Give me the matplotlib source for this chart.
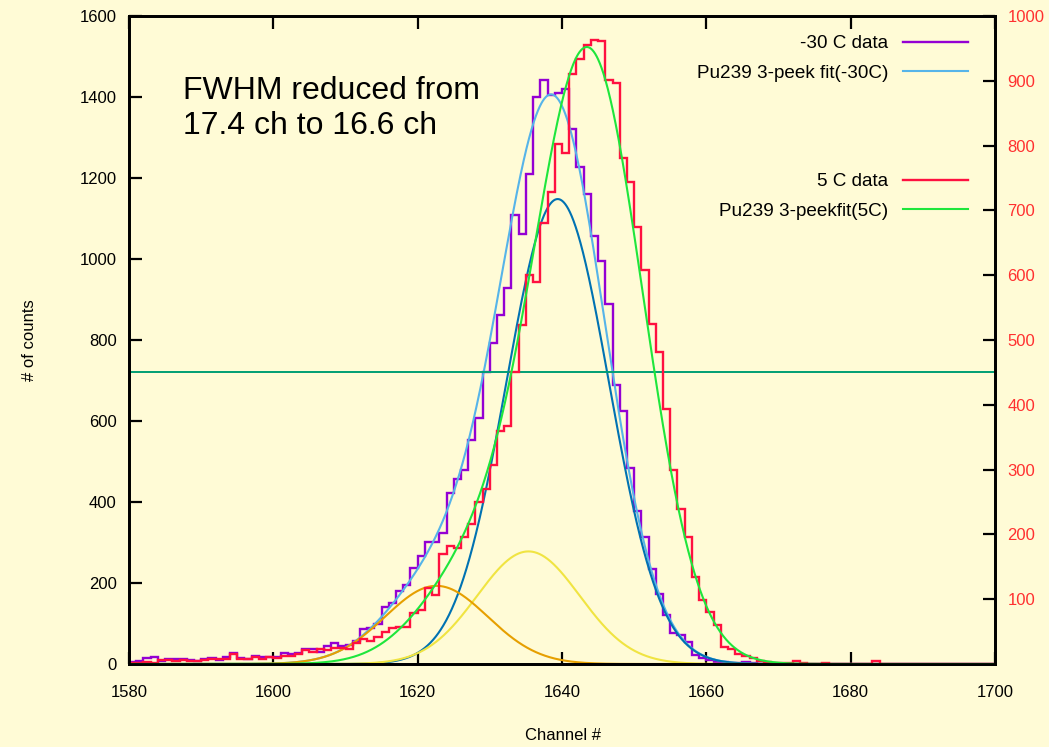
import numpy as np
import matplotlib
matplotlib.use('Agg')
import matplotlib.pyplot as plt
from matplotlib.lines import Line2D

plt.rcParams['font.family'] = ['Liberation Sans', 'DejaVu Sans']

# ---------------- data ----------------
first_channel = 1580
# -30 C data (left axis, counts per channel, bins 1580..1699)
m30_counts = [4, 8, 16, 18, 7, 12, 12, 12, 10, 8,
              12, 16, 10, 18, 26, 14, 12, 20, 18, 18,
              18, 26, 24, 28, 36, 36, 30, 44, 51, 44,
              46, 58, 86, 90, 100, 141, 150, 181, 196, 237,
              267, 302, 302, 323, 423, 458, 479, 553, 607, 722,
              792, 862, 928, 1109, 1062, 1211, 1401, 1442, 1404, 1411,
              1420, 1320, 1226, 1160, 1056, 996, 888, 689, 624, 485,
              379, 314, 234, 173, 121, 76, 72, 54, 23, 14,
              9, 5, 4, 3, 3, 6, 2, 1, 1, 0,
              0, 0, 0, 0, 0, 0, 0, 0, 0, 0,
              0, 0, 0, 0, 0, 0, 0, 0, 0, 0,
              0, 0, 0, 0, 0, 0, 0, 0, 0, 0]
# 5 C data (right axis, bins 1580..1699)
p5_counts = [1, 1, 3, 2, 6, 6, 5, 6, 5, 5,
             6, 7.5, 7.5, 7.5, 16, 7.5, 7.5, 11, 7, 11,
             10, 12.5, 12.5, 15, 22, 19, 22.5, 22, 25, 25,
             22.5, 32, 39, 36, 41, 50, 56, 57.5, 57.5, 78,
             84, 117, 107, 170, 182, 179, 196, 216, 250, 270,
             307, 359, 367, 451, 523, 600, 590, 681, 729, 802,
             788, 910, 933, 955, 963, 961, 902, 896, 781, 744,
             674, 608, 524, 481, 393, 300, 239, 196, 135, 99,
             81, 60, 27, 23, 15, 13, 9, 5, 3, 1,
             1, 1, 4, 1, 0, 0, 1, 0, 0, 0,
             0, 0, 0, 4, 0, 0, 0, 0, 0, 0,
             0, 0, 0, 0, 0, 0, 0, 0, 0, 0]

# Pu239 3-peak fit parameters
m30_peak_centers = [1639.4, 1635.35, 1622.6]
m30_peak_amps = [1148, 278, 193]
m30_sigma = 7.1
p5_peak_centers = [1644.4, 1640.35, 1627.6]
p5_peak_amps = [774, 187, 131]
p5_sigma = 7.4

half_level = 721

x_ticks = [1580, 1600, 1620, 1640, 1660, 1680, 1700]
left_ticks = [0, 200, 400, 600, 800, 1000, 1200, 1400, 1600]
right_ticks = [100, 200, 300, 400, 500, 600, 700, 800, 900, 1000]

# ---------------- style ----------------
bg = '#fffbd6'
c_purple = '#9400d3'
c_lblue = '#56b4e9'
c_red = '#ff1040'
c_green = '#1ee63c'
c_dblue = '#0072b2'
c_orange = '#e69f00'
c_yellow = '#f0e442'
c_teal = '#009e73'

W, H = 1049, 747
fig = plt.figure(figsize=(W / 100, H / 100), dpi=100, facecolor=bg)
ax = fig.add_axes([129 / W, (H - 664) / H, 866 / W, 648 / H])
ax.set_facecolor(bg)
ax2 = ax.twinx()

edges = np.arange(first_channel, first_channel + len(m30_counts) + 1)


def gauss(x, c, a, s):
    return a * np.exp(-(x - c) ** 2 / (2 * s ** 2))


xf = np.linspace(1580, 1700, 2401)
m30_parts = [gauss(xf, c, a, m30_sigma) for c, a in zip(m30_peak_centers, m30_peak_amps)]
p5_parts = [gauss(xf, c, a, p5_sigma) for c, a in zip(p5_peak_centers, p5_peak_amps)]

lw_h = 1.7
lw_f = 1.5
ax.stairs(m30_counts, edges, baseline=None, color=c_purple, lw=lw_h, zorder=2)
ax.plot(xf, sum(m30_parts), color=c_lblue, lw=lw_f, zorder=3)
ax.plot(xf, m30_parts[0], color=c_dblue, lw=lw_f, zorder=3)
ax.plot(xf, m30_parts[1], color=c_yellow, lw=lw_f, zorder=3)
ax.plot(xf, m30_parts[2], color=c_orange, lw=lw_f, zorder=3)
ax.axhline(half_level, color=c_teal, lw=1.4, zorder=3)

ax2.stairs(p5_counts, edges, baseline=None, color=c_red, lw=lw_h, zorder=2)
ax2.plot(xf, sum(p5_parts), color=c_green, lw=lw_f, zorder=3)

ax.set_xlim(1580, 1700)
ax.set_ylim(0, 1600)
ax2.set_ylim(0, 1000)
ax.set_xticks(x_ticks)
ax.set_yticks(left_ticks)
ax2.set_yticks(right_ticks)

for a in (ax, ax2):
    for sp in a.spines.values():
        sp.set_linewidth(2)
        sp.set_color('black')
        sp.set_zorder(5)

ax.tick_params(axis='x', direction='in', length=9, width=1.6, top=True, bottom=True,
               labelsize=12, pad=15)
ax.tick_params(axis='y', direction='in', length=9, width=1.6, left=True, right=False,
               labelsize=12, pad=9)
ax2.tick_params(axis='y', direction='in', length=9, width=1.6, right=True,
                labelsize=12, pad=9, labelcolor='#ff3030')

fig.text(563 / W, 1 - 735 / H, 'Channel #', ha='center', va='center', fontsize=12)
fig.text(29 / W, 1 - 340 / H, '# of counts', ha='center', va='center',
         rotation=90, fontsize=12)

fig.text(183 / W, 1 - 76 / H, 'FWHM reduced from\n17.4 ch to 16.6 ch',
         ha='left', va='top', fontsize=23, linespacing=1.2)

h1 = [Line2D([], [], color=c_purple, lw=lw_h), Line2D([], [], color=c_lblue, lw=lw_f)]
h2 = [Line2D([], [], color=c_red, lw=lw_h), Line2D([], [], color=c_green, lw=lw_f)]
leg_kw = dict(frameon=False, markerfirst=False, fontsize=13.6, handlelength=3.45,
              handletextpad=0.78, labelspacing=0.65, borderpad=0, borderaxespad=0,
              loc='upper right', bbox_transform=fig.transFigure)
leg1 = ax.legend(h1, ['-30 C data', 'Pu239 3-peek fit(-30C)'],
                 bbox_to_anchor=(968 / W, 1 - 35 / H), **leg_kw)
leg2 = ax2.legend(h2, ['5 C data', 'Pu239 3-peekfit(5C)'],
                  bbox_to_anchor=(968 / W, 1 - 173 / H), **leg_kw)

fig.savefig('out.png', dpi=100, facecolor=bg)
